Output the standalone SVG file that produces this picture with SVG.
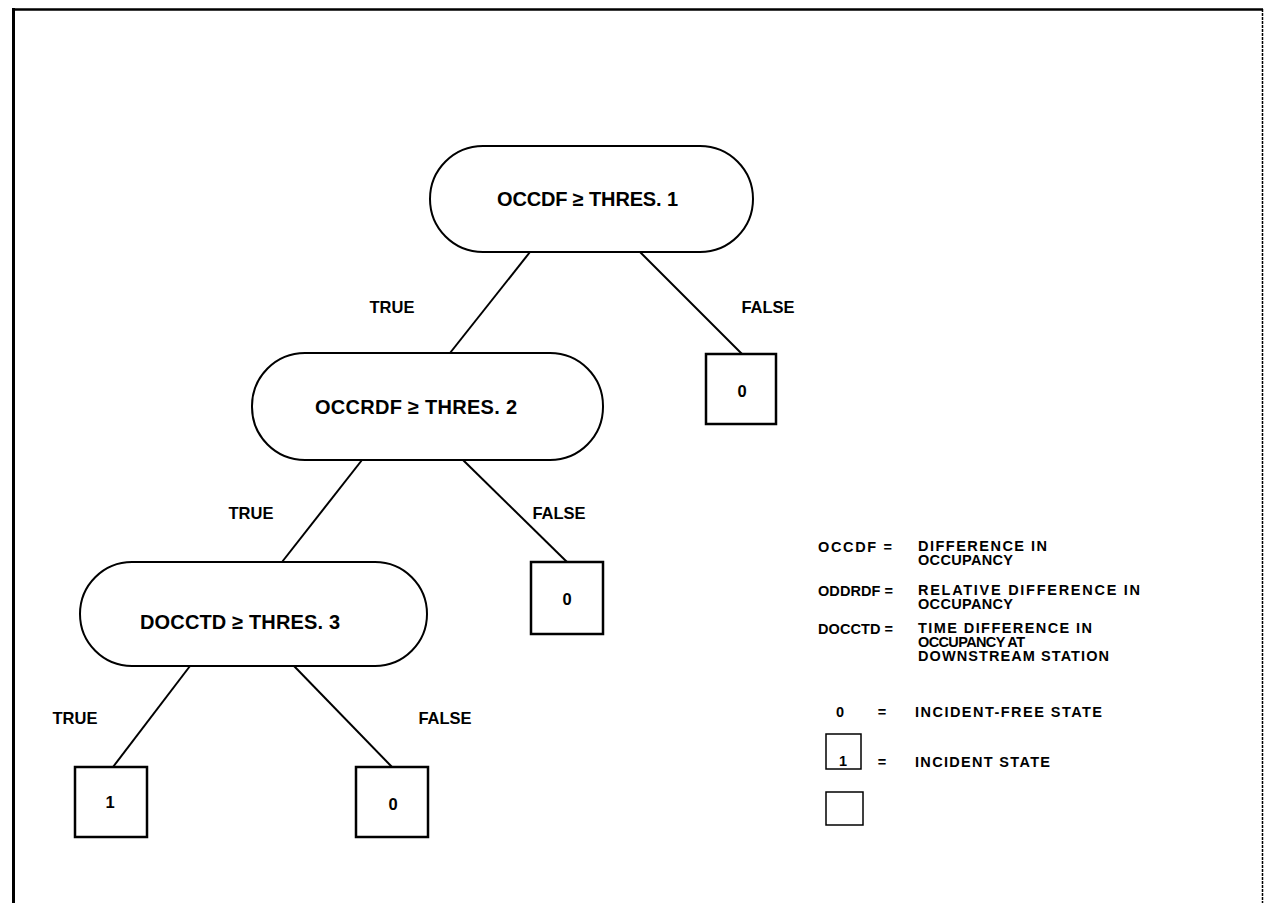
<svg xmlns="http://www.w3.org/2000/svg" width="1264" height="903" viewBox="0 0 1264 903">
<style>
.t{font-family:"Liberation Sans",Arial,sans-serif;font-weight:bold;fill:#000}
.n{font-size:20px}
.l{font-size:16.5px}
.g{font-size:14.5px}
.pill{fill:#fff;stroke:#000;stroke-width:2}
.box{fill:#fff;stroke:#000;stroke-width:2.5}
.c{stroke:#000;stroke-width:2;fill:none}
</style>
<rect width="1264" height="903" fill="#fff"/>
<g id="frame">
<line x1="13.5" y1="8" x2="13.5" y2="903" stroke="#000" stroke-width="3"/>
<line x1="12" y1="9.5" x2="1263" y2="9.5" stroke="#000" stroke-width="2.5"/>
<line x1="1262.5" y1="9" x2="1262.5" y2="903" stroke="#000" stroke-width="1.5" stroke-dasharray="3,1"/>
</g>
<g id="connectors">
<line class="c" x1="530" y1="252" x2="450" y2="353"/>
<line class="c" x1="640" y1="252" x2="742" y2="354"/>
<line class="c" x1="362" y1="460" x2="282" y2="562"/>
<line class="c" x1="463" y1="460" x2="567" y2="562"/>
<line class="c" x1="190" y1="666" x2="113" y2="767"/>
<line class="c" x1="294" y1="666" x2="392" y2="767"/>
</g>
<g id="labels">
<text class="t l" x="392" y="313" text-anchor="middle">TRUE</text>
<text class="t l" x="768" y="313" text-anchor="middle">FALSE</text>
<text class="t l" x="251" y="519" text-anchor="middle">TRUE</text>
<text class="t l" x="559" y="519" text-anchor="middle">FALSE</text>
<text class="t l" x="75" y="724" text-anchor="middle">TRUE</text>
<text class="t l" x="445" y="724" text-anchor="middle">FALSE</text>
</g>
<g id="node1">
<rect class="pill" x="430" y="146" width="323" height="106" rx="53"/>
<text class="t n" x="497" y="206" textLength="181">OCCDF ≥ THRES. 1</text>
</g>
<g id="leaf1">
<rect class="box" x="706" y="354" width="70" height="70"/>
<text class="t l" x="742" y="397" text-anchor="middle">0</text>
</g>
<g id="node2">
<rect class="pill" x="252" y="353" width="351" height="107" rx="53"/>
<text class="t n" x="315" y="414" textLength="202">OCCRDF ≥ THRES. 2</text>
</g>
<g id="leaf2">
<rect class="box" x="531" y="562" width="72" height="72"/>
<text class="t l" x="567" y="605" text-anchor="middle">0</text>
</g>
<g id="node3">
<rect class="pill" x="80" y="562" width="347" height="104" rx="52"/>
<text class="t n" x="140" y="629" textLength="200">DOCCTD ≥ THRES. 3</text>
</g>
<g id="leaf3">
<rect class="box" x="75" y="767" width="72" height="70"/>
<text class="t l" x="110" y="808" text-anchor="middle">1</text>
</g>
<g id="leaf4">
<rect class="box" x="356" y="767" width="72" height="70"/>
<text class="t l" x="393" y="810" text-anchor="middle">0</text>
</g>
<g id="legend">
<text class="t g" x="818" y="552" textLength="74">OCCDF =</text>
<text class="t g" x="918" y="551" textLength="129">DIFFERENCE IN</text>
<text class="t g" x="918" y="565" textLength="95">OCCUPANCY</text>
<text class="t g" x="818" y="596" textLength="75">ODDRDF =</text>
<text class="t g" x="918" y="595" textLength="222">RELATIVE DIFFERENCE IN</text>
<text class="t g" x="918" y="609" textLength="95">OCCUPANCY</text>
<text class="t g" x="818" y="634" textLength="75">DOCCTD =</text>
<text class="t g" x="918" y="633" textLength="174">TIME DIFFERENCE IN</text>
<text class="t g" x="918" y="647" textLength="107">OCCUPANCY AT</text>
<text class="t g" x="918" y="661" textLength="191">DOWNSTREAM STATION</text>
<text class="t g" x="840" y="717" text-anchor="middle">0</text>
<text class="t g" x="882" y="717" text-anchor="middle">=</text>
<text class="t g" x="915" y="717" textLength="187">INCIDENT-FREE STATE</text>
<rect x="826" y="734" width="35" height="35" fill="none" stroke="#000" stroke-width="1.5"/>
<text class="t g" x="843" y="766" text-anchor="middle">1</text>
<text class="t g" x="882" y="767" text-anchor="middle">=</text>
<text class="t g" x="915" y="767" textLength="135">INCIDENT STATE</text>
<rect x="826" y="792" width="37" height="33" fill="none" stroke="#000" stroke-width="1.5"/>
</g>
</svg>
